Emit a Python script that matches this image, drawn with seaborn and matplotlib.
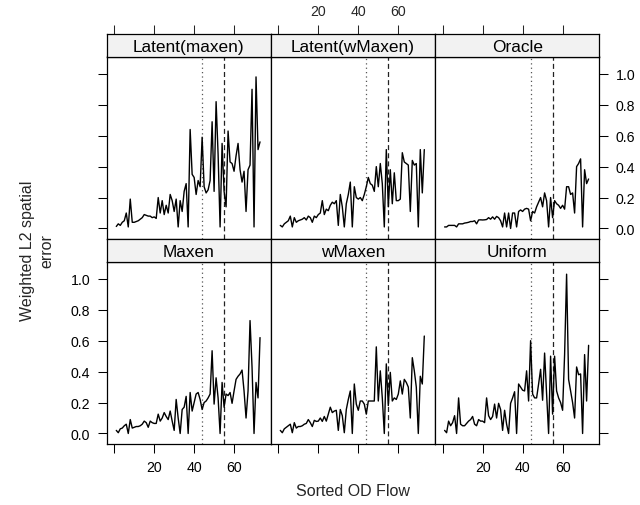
import numpy as np
import pandas as pd
import matplotlib
matplotlib.use("Agg")
import matplotlib.pyplot as plt
import seaborn as sns

# ---------------- data ----------------
flow_index = list(range(1, 74))

latent_maxen = [0.013, 0.03, 0.02, 0.04, 0.05, 0.10, 0.01, 0.19, 0.04, 0.04,
                0.045, 0.05, 0.06, 0.07, 0.09, 0.085, 0.08, 0.08, 0.07, 0.075,
                0.065, 0.20, 0.10, 0.18, 0.09, 0.15, 0.10, 0.22, 0.18, 0.11,
                0.19, 0.01, 0.18, 0.11, 0.24, 0.29, 0.01, 0.64, 0.35, 0.33,
                0.22, 0.31, 0.27, 0.59, 0.27, 0.23, 0.25, 0.31, 0.69, 0.24,
                0.82, 0.48, 0.01, 0.55, 0.24, 0.14, 0.63, 0.43, 0.42, 0.37,
                0.47, 0.55, 0.38, 0.30, 0.37, 0.11, 0.38, 0.41, 0.90, 0.01,
                0.98, 0.51, 0.56]

latent_wmaxen = [0.02, 0.01, 0.03, 0.04, 0.05, 0.08, 0.01, 0.07, 0.04, 0.05,
                 0.055, 0.06, 0.07, 0.055, 0.08, 0.07, 0.04, 0.08, 0.07, 0.09,
                 0.10, 0.18, 0.09, 0.125, 0.115, 0.15, 0.17, 0.16, 0.18, 0.02,
                 0.22, 0.14, 0.01, 0.16, 0.22, 0.30, 0.01, 0.27, 0.20, 0.19,
                 0.20, 0.18, 0.22, 0.27, 0.33, 0.29, 0.28, 0.24, 0.40, 0.27,
                 0.42, 0.29, 0.01, 0.51, 0.14, 0.38, 0.16, 0.36, 0.18, 0.18,
                 0.19, 0.49, 0.43, 0.42, 0.41, 0.11, 0.44, 0.41, 0.42, 0.01,
                 0.51, 0.23, 0.51]

oracle = [0.01, 0.01, 0.02, 0.02, 0.02, 0.02, 0.01, 0.03, 0.03, 0.03,
          0.035, 0.037, 0.04, 0.045, 0.045, 0.05, 0.03, 0.055, 0.056, 0.055,
          0.056, 0.058, 0.07, 0.06, 0.075, 0.06, 0.078, 0.07, 0.05, 0.01,
          0.10, 0.01, 0.10, 0.00, 0.10, 0.10, 0.01, 0.11, 0.12, 0.11,
          0.125, 0.13, 0.125, 0.05, 0.11, 0.10, 0.14, 0.17, 0.20, 0.14,
          0.23, 0.18, 0.01, 0.20, 0.07, 0.18, 0.16, 0.15, 0.13, 0.15,
          0.125, 0.27, 0.27, 0.22, 0.23, 0.10, 0.40, 0.42, 0.45, 0.01,
          0.38, 0.29, 0.32]

maxen = [0.02, 0.005, 0.03, 0.035, 0.05, 0.06, 0.00, 0.09, 0.035, 0.04,
         0.045, 0.045, 0.05, 0.06, 0.08, 0.07, 0.04, 0.08, 0.07, 0.065,
         0.065, 0.125, 0.08, 0.10, 0.135, 0.11, 0.09, 0.145, 0.08, 0.02,
         0.22, 0.10, 0.00, 0.155, 0.17, 0.24, 0.00, 0.265, 0.145, 0.20,
         0.255, 0.265, 0.22, 0.155, 0.20, 0.21, 0.23, 0.255, 0.535, 0.19,
         0.36, 0.23, 0.00, 0.33, 0.17, 0.255, 0.245, 0.265, 0.195, 0.275,
         0.35, 0.37, 0.385, 0.41, 0.275, 0.10, 0.275, 0.73, 0.43, 0.00,
         0.33, 0.23, 0.62]

wmaxen = [0.02, 0.005, 0.03, 0.04, 0.05, 0.06, 0.005, 0.07, 0.035, 0.045,
          0.045, 0.05, 0.06, 0.065, 0.09, 0.07, 0.045, 0.085, 0.078, 0.08,
          0.10, 0.078, 0.11, 0.08, 0.125, 0.17, 0.135, 0.145, 0.15, 0.02,
          0.155, 0.115, 0.005, 0.155, 0.22, 0.275, 0.00, 0.32, 0.19, 0.15,
          0.21, 0.21, 0.19, 0.125, 0.21, 0.21, 0.21, 0.21, 0.56, 0.21,
          0.405, 0.23, 0.00, 0.45, 0.18, 0.395, 0.21, 0.23, 0.22, 0.255,
          0.34, 0.255, 0.35, 0.33, 0.30, 0.10, 0.49, 0.405, 0.30, 0.00,
          0.37, 0.32, 0.63]

uniform = [0.02, 0.005, 0.08, 0.05, 0.07, 0.115, 0.00, 0.23, 0.06, 0.05,
           0.05, 0.065, 0.08, 0.09, 0.11, 0.06, 0.05, 0.09, 0.08, 0.08,
           0.07, 0.23, 0.115, 0.09, 0.11, 0.19, 0.10, 0.195, 0.155, 0.02,
           0.15, 0.06, 0.00, 0.195, 0.23, 0.27, 0.00, 0.32, 0.30, 0.28,
           0.275, 0.405, 0.21, 0.60, 0.255, 0.23, 0.23, 0.32, 0.415, 0.215,
           0.52, 0.255, 0.00, 0.50, 0.125, 0.50, 0.275, 0.23, 0.20, 0.15,
           0.51, 1.03, 0.35, 0.275, 0.20, 0.10, 0.43, 0.38, 0.385, 0.00,
           0.51, 0.21, 0.57]

panel_names = ["Latent(maxen)", "Latent(wMaxen)", "Oracle",
               "Maxen", "wMaxen", "Uniform"]
panel_values = [latent_maxen, latent_wmaxen, oracle, maxen, wmaxen, uniform]

x_ticks = [0, 20, 40, 60]
x_tick_labels = ["", "20", "40", "60"]
y_ticks = [0.0, 0.2, 0.4, 0.6, 0.8, 1.0]
y_tick_labels = ["0.0", "0.2", "0.4", "0.6", "0.8", "1.0"]
ref_dotted = 44
ref_dashed = 55

x_label = "Sorted OD Flow"
y_label = "Weighted L2 spatial\nerror"

df = pd.concat([pd.DataFrame({"flow": flow_index, "error": v, "method": n})
                for n, v in zip(panel_names, panel_values)], ignore_index=True)

# ---------------- style ----------------
sns.set_style("white")
plt.rcParams["font.family"] = ["Liberation Sans", "DejaVu Sans"]

W, H = 640, 506
fig = plt.figure(figsize=(W / 100, H / 100), dpi=100)


def rect(x0, y0, x1, y1):
    return [x0 / W, 1 - y1 / H, (x1 - x0) / W, (y1 - y0) / H]


col_x = [106.7, 270.7, 435.0, 599.3]
rows = [((34.5, 57.5), (57.5, 240.0)), ((240.0, 262.5), (262.5, 445.0))]
xlim = (-3.8, 78.35)
ylim = (-0.068, 1.112)
tick_fs = 10.2
lab_fs = 11.5
strip_fs = 12.4
tick_len = 6.5
tick_w = 0.75
tick_pad = 5.3

for i, name in enumerate(panel_names):
    r, c = divmod(i, 3)
    (sy0, sy1), (py0, py1) = rows[r]
    x0, x1 = col_x[c], col_x[c + 1]

    ax = fig.add_axes(rect(x0, py0, x1, py1))
    sub = df[df["method"] == name]
    ax.axvline(ref_dotted, color="#555555", lw=0.9, ls=(0, (1, 2.5)), zorder=1)
    ax.axvline(ref_dashed, color="#222222", lw=0.9, ls=(0, (4, 2.5)), zorder=1)
    sns.lineplot(data=sub, x="flow", y="error", ax=ax, color="black",
                 lw=1.0, estimator=None, zorder=3)
    ax.set_xlim(*xlim)
    ax.set_ylim(*ylim)
    ax.set_xlabel("")
    ax.set_ylabel("")
    ax.set_facecolor("white")
    for sp in ax.spines.values():
        sp.set_visible(True)
        sp.set_color("black")
        sp.set_linewidth(0.9)
    ax.set_xticks(x_ticks)
    ax.set_xticklabels(x_tick_labels)
    ax.set_yticks(y_ticks)
    ax.set_yticklabels(y_tick_labels)
    ax.tick_params(axis="both", direction="out", length=tick_len, width=tick_w,
                   colors="black", labelsize=tick_fs, pad=tick_pad)
    ax.tick_params(axis="x", top=False, labeltop=False,
                   bottom=(r == 1), labelbottom=(r == 1 and c != 1))
    ax.tick_params(axis="y",
                   left=(c == 0), labelleft=(c == 0 and r == 1),
                   right=(c == 2), labelright=(c == 2 and r == 0))

    # strip
    sx = fig.add_axes(rect(x0, sy0, x1, sy1))
    sx.set_facecolor("#f2f2f2")
    sx.set_xlim(*xlim)
    sx.set_ylim(0, 1)
    for sp in sx.spines.values():
        sp.set_visible(True)
        sp.set_color("black")
        sp.set_linewidth(0.9)
    sx.set_yticks([])
    sx.text(0.5, 0.45, name, transform=sx.transAxes, ha="center", va="center",
            fontsize=strip_fs, color="black")
    if r == 0:
        sx.set_xticks(x_ticks)
        sx.set_xticklabels(x_tick_labels)
        sx.tick_params(axis="x", direction="out", length=tick_len, width=tick_w,
                       labelsize=tick_fs, pad=4.5, bottom=False, labelbottom=False,
                       top=True, labeltop=(c == 1))
    else:
        sx.set_xticks([])

fig.text(353 / W, 1 - 492 / H, x_label, ha="center", va="center", fontsize=lab_fs)
fig.text(37 / W, 1 - 251 / H, y_label, ha="center", va="center", fontsize=lab_fs,
         rotation=90, multialignment="center", linespacing=1.35)

fig.savefig("out.png", dpi=100)
